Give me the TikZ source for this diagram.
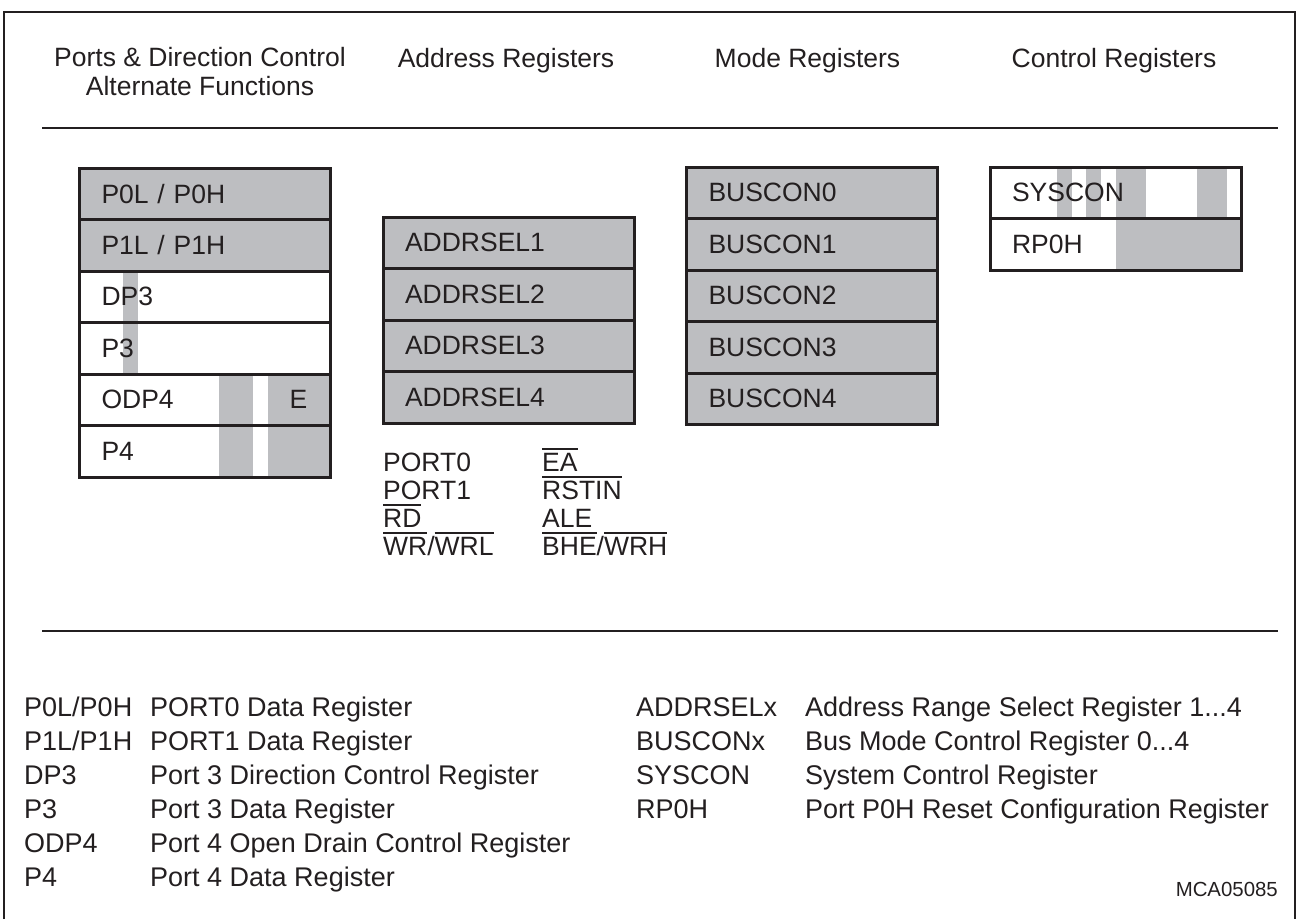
\documentclass[tikz,border=0pt]{standalone}
\usepackage{fontspec}
\setmainfont{Liberation Sans}
\usetikzlibrary{positioning,backgrounds}

\definecolor{regfill}{RGB}{189,190,193}
\definecolor{inkcol}{RGB}{35,31,32}
\newcommand\regfont{\fontsize{26.5}{28.5}\selectfont}
\newcommand\legfont{\fontsize{27}{34}\selectfont}
\newcommand\ovl[1]{\smash{\vbox{\hrule height 2pt\kern 3pt\hbox{#1}}}}

\tikzset{
  regrow/.style={draw=inkcol,line width=3pt,minimum width=251pt,minimum height=51.5pt,
    text width=207pt,inner xsep=22pt,inner ysep=0pt,outer sep=0pt,align=left,
    font=\regfont,text=inkcol},
  graybox/.style={regrow,fill=regfill},
  hdr/.style={font=\regfont,text=inkcol,anchor=base},
  sepline/.style={draw=inkcol,line width=2.5pt}
}

\begin{document}
\begin{tikzpicture}[x=1pt,y=-1pt]
\useasboundingbox (0,0) rectangle (1297,919);
\draw[line width=2pt,draw=inkcol] (4,919) -- (4,12) -- (1295,12) -- (1295,919);

% headings
\node[hdr,align=center,anchor=center] (hports) at (200,71.5) {Ports \& Direction Control\\Alternate Functions};
\node[hdr] (haddr) at (506,67) {Address Registers};
\node[hdr] (hmode) at (807.5,67) {Mode Registers};
\node[hdr] (hctrl) at (1114,67) {Control Registers};
\draw[sepline] (42,128) -- (1278,128);

% ports
\node[graybox] (p0) at (205,193.75) {P0L / P0H};
\node[graybox,below=0pt of p0] (p1) {P1L / P1H};
\node[regrow,below=0pt of p1] (dp3) {DP3};
\node[regrow,below=0pt of dp3] (p3) {P3};
\node[regrow,below=0pt of p3] (odp4) {ODP4};
\node[regrow,below=0pt of odp4] (p4) {P4};
\node[font=\regfont,text=inkcol] (odpe) at ([xshift=-32pt]odp4.east) {E};

% address registers
\node[graybox] (as1) at (508.5,242.75) {ADDRSEL1};
\node[graybox,below=0pt of as1] (as2) {ADDRSEL2};
\node[graybox,below=0pt of as2] (as3) {ADDRSEL3};
\node[graybox,below=0pt of as3] (as4) {ADDRSEL4};

\node[anchor=north west,inner sep=0pt,font=\fontsize{26.5}{28}\selectfont,text=inkcol] (sig) at (383,451.4) {%
\begin{tabular}{@{}p{159pt}@{}l@{}}
PORT0 & \ovl{EA}\\
PORT1 & \ovl{RSTIN}\\
\ovl{RD} & ALE\\
\ovl{WR}/\ovl{WRL} & \ovl{BHE}/\ovl{WRH}
\end{tabular}};

% mode registers
\node[graybox] (bc0) at (812,192.75) {BUSCON0};
\node[graybox,below=0pt of bc0] (bc1) {BUSCON1};
\node[graybox,below=0pt of bc1] (bc2) {BUSCON2};
\node[graybox,below=0pt of bc2] (bc3) {BUSCON3};
\node[graybox,below=0pt of bc3] (bc4) {BUSCON4};

% control registers
\node[regrow] (syscon) at (1115.5,192.75) {SYSCON};
\node[regrow,below=0pt of syscon] (rp0h) {RP0H};

% shaded bit fields
\begin{scope}[on background layer]
\fill[regfill] ([xshift=43.5pt]dp3.north west) rectangle ([xshift=58.5pt]p3.south west);
\fill[regfill] ([xshift=139.5pt]odp4.north west) rectangle ([xshift=173.5pt]p4.south west);
\fill[regfill] ([xshift=188.5pt]odp4.north west) rectangle (p4.south east);
\fill[regfill] ([xshift=67pt]syscon.north west) rectangle ([xshift=82pt]syscon.south west);
\fill[regfill] ([xshift=96pt]syscon.north west) rectangle ([xshift=111pt]syscon.south west);
\fill[regfill] ([xshift=126pt]syscon.north west) rectangle ([xshift=156pt]syscon.south west);
\fill[regfill] ([xshift=207pt]syscon.north west) rectangle ([xshift=237pt]syscon.south west);
\fill[regfill] ([xshift=126pt]rp0h.north west) rectangle (rp0h.south east);
\end{scope}

% legend
\draw[sepline] (42,631) -- (1278,631);
\node[anchor=north west,inner sep=0pt,font=\legfont,text=inkcol] (legl) at (24,692.2) {%
\begin{tabular}{@{}p{126pt}@{}l@{}}
P0L/P0H & PORT0 Data Register\\
P1L/P1H & PORT1 Data Register\\
DP3 & Port 3 Direction Control Register\\
P3 & Port 3 Data Register\\
ODP4 & Port 4 Open Drain Control Register\\
P4 & Port 4 Data Register
\end{tabular}};
\node[anchor=north west,inner sep=0pt,font=\legfont,text=inkcol] (legr) at (636,692.2) {%
\begin{tabular}{@{}p{169pt}@{}l@{}}
ADDRSELx & Address Range Select Register 1...4\\
BUSCONx & Bus Mode Control Register 0...4\\
SYSCON & System Control Register\\
RP0H & Port P0H Reset Configuration Register
\end{tabular}};
\node[anchor=base east,inner sep=0pt,font=\fontsize{20.4}{24}\selectfont,text=inkcol] (mca) at (1278,896) {MCA05085};
\end{tikzpicture}
\end{document}
